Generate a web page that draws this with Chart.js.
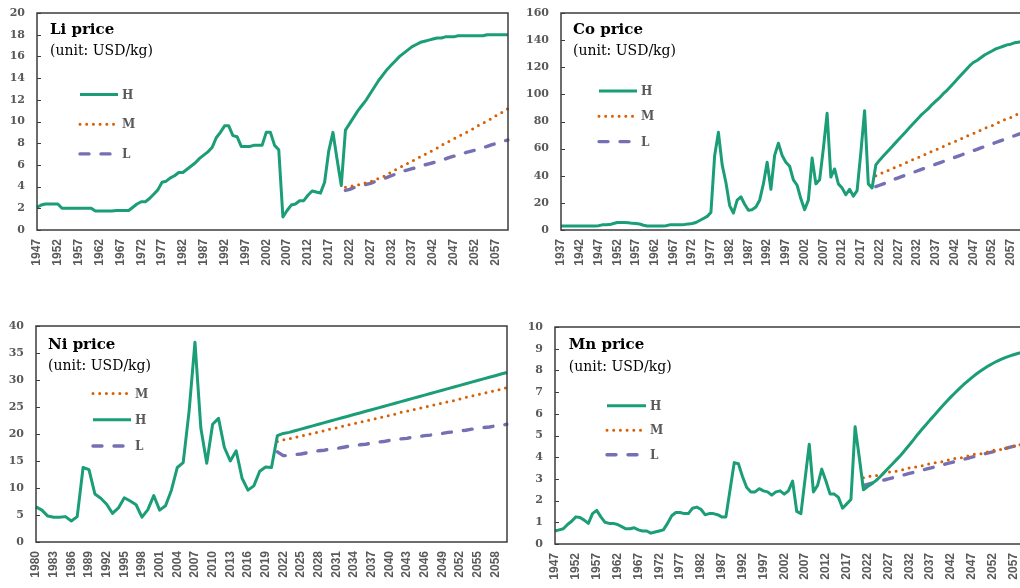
<!DOCTYPE html>
<html><head><meta charset="utf-8">
<script src="https://cdn.jsdelivr.net/npm/chart.js@4.4.1/dist/chart.umd.min.js"></script>
<style>
html,body{margin:0;padding:0;background:#fff;overflow:hidden;width:1020px;height:588px;}
#wrap{position:relative;width:1020px;height:588px;overflow:hidden;background:#fff;}
canvas{position:absolute;}
</style></head><body><div id="wrap">
<canvas id="cLi" width="512" height="290" style="left:0;top:0"></canvas>
<canvas id="cCo" width="514" height="290" style="left:510px;top:0"></canvas>
<canvas id="cNi" width="512" height="288" style="left:0;top:300px"></canvas>
<canvas id="cMn" width="520" height="288" style="left:510px;top:300px"></canvas>
</div>
<script>
// ---------- DATA ----------
const projStart = 2021;

const liStart = 1947, liEnd = 2060;
const liH = [
  2.1, 2.3, 2.4, 2.4, 2.4, 2.4, 2.0, 2.0, 2.0, 2.0,
  2.0, 2.0, 2.0, 2.0, 1.75, 1.75, 1.75, 1.75, 1.75, 1.8,
  1.8, 1.8, 1.8, 2.1, 2.4, 2.6, 2.6, 2.9, 3.3, 3.7,
  4.4, 4.5, 4.8, 5.0, 5.3, 5.3, 5.6, 5.9, 6.2, 6.6,
  6.9, 7.2, 7.6, 8.5, 9.0, 9.6, 9.6, 8.7, 8.6, 7.7,
  7.7, 7.7, 7.8, 7.8, 7.8, 9.0, 9.0, 7.8, 7.4, 1.2,
  1.8, 2.3, 2.4, 2.7, 2.7, 3.2, 3.6, 3.5, 3.4, 4.4,
  7.3, 9.0, 6.5, 4.1, 9.2, 9.8, 10.4, 11.0, 11.5, 12.0,
  12.6, 13.2, 13.8, 14.3, 14.8, 15.2, 15.6, 16.0, 16.3, 16.6,
  16.9, 17.1, 17.3, 17.4, 17.5, 17.6, 17.7, 17.7, 17.8, 17.8,
  17.8, 17.9, 17.9, 17.9, 17.9, 17.9, 17.9, 17.9, 18.0, 18.0,
  18.0, 18.0, 18.0, 18.0
];
const liM = [
  3.95, 4.0, 4.1, 4.15, 4.25, 4.35, 4.45, 4.6, 4.75, 4.9,
  5.1, 5.35, 5.55, 5.75, 5.95, 6.15, 6.35, 6.55, 6.75, 6.95,
  7.15, 7.35, 7.55, 7.8, 8.0, 8.2, 8.4, 8.6, 8.8, 9.0,
  9.2, 9.4, 9.65, 9.85, 10.05, 10.25, 10.5, 10.7, 10.95, 11.2
];
const liL = [
  3.65, 3.75, 3.9, 4.0, 4.1, 4.2, 4.3, 4.45, 4.6, 4.7,
  4.85, 5.0, 5.15, 5.3, 5.45, 5.55, 5.65, 5.75, 5.85, 6.0,
  6.1, 6.2, 6.3, 6.45, 6.55, 6.7, 6.8, 6.9, 7.0, 7.15,
  7.25, 7.35, 7.5, 7.6, 7.7, 7.85, 7.95, 8.05, 8.2, 8.3
];

const coStart = 1937, coEnd = 2060;
const coH = [
  3, 3, 3, 3, 3, 3, 3, 3, 3, 3,
  3.2, 3.8, 3.9, 4.0, 4.8, 5.5, 5.6, 5.6, 5.4, 4.9,
  4.8, 4.4, 3.5, 3.0, 2.9, 2.9, 2.9, 2.9, 3.2, 3.8,
  3.9, 3.9, 3.9, 4.0, 4.5, 4.8, 5.5, 7.0, 8.5, 10.0,
  13, 55, 72, 48, 35, 18, 12.5, 22, 24.5, 19,
  14.5, 15, 17, 22, 34, 50, 30, 55, 64, 55,
  50, 47, 37, 33, 23, 15, 22, 53, 34, 37,
  60, 86, 39, 45, 34, 31, 26, 30, 25, 29,
  57, 88, 34, 31, 48, 51.5, 54.5, 57.5, 60.5, 63.5,
  66.5, 69.5, 72.5, 75.5, 78.5, 81.5, 84.5, 87, 89.5, 92.5,
  95, 97.5, 100.5, 103, 106, 109, 112, 115, 118, 121,
  123.5, 125, 127, 129, 130.5, 132, 133.5, 134.5, 135.5, 136.5,
  137, 138, 138.5, 139
];
const coM = [
  40, 41, 42.5, 43.5, 45, 46, 47, 48.5, 49.5, 51,
  52, 53, 54.5, 55.5, 57, 58, 59, 60.5, 61.5, 63,
  64, 65, 66.5, 67.5, 69, 70, 71, 72.5, 73.5, 75,
  76, 77, 78.5, 79.5, 81, 82, 83, 84.5, 85.5, 87
];
const coL = [
  32, 33, 34, 35, 36.5, 37.5, 38.5, 39.5, 40.5, 41.5,
  42.5, 43.5, 44.5, 45.5, 46.5, 47.5, 48.5, 49.5, 50.5, 51.5,
  52.5, 53.5, 54.5, 55.5, 56.5, 57.5, 58.5, 59.5, 60.5, 61.5,
  62.5, 63.5, 64.5, 65.5, 66.5, 67.5, 68.5, 69.5, 70.5, 71.5
];

const niStart = 1980, niEnd = 2060;
const niH = [
  6.5, 5.9, 4.8, 4.6, 4.6, 4.7, 3.9, 4.7, 13.8, 13.4,
  8.9, 8.1, 7.0, 5.3, 6.3, 8.2, 7.6, 6.9, 4.6, 6.0,
  8.6, 5.9, 6.7, 9.6, 13.8, 14.7, 24.2, 37.0, 21.1, 14.6,
  21.8, 22.9, 17.5, 15.0, 16.9, 11.8, 9.6, 10.4, 13.1, 13.9,
  13.8, 19.7, 20.1, 20.3, 20.6, 20.9, 21.2, 21.5, 21.8, 22.1,
  22.4, 22.7, 23.0, 23.3, 23.6, 23.9, 24.2, 24.5, 24.8, 25.1,
  25.4, 25.7, 26.0, 26.3, 26.6, 26.9, 27.2, 27.5, 27.8, 28.1,
  28.4, 28.7, 29.0, 29.3, 29.6, 29.9, 30.2, 30.5, 30.8, 31.1,
  31.4
];
const niM = [
  18.6, 18.9, 19.1, 19.4, 19.6, 19.9, 20.1, 20.4, 20.6, 20.9,
  21.1, 21.4, 21.7, 21.9, 22.2, 22.4, 22.7, 22.9, 23.2, 23.4,
  23.7, 24.0, 24.2, 24.5, 24.7, 25.0, 25.2, 25.5, 25.7, 26.0,
  26.2, 26.5, 26.8, 27.0, 27.3, 27.5, 27.8, 28.0, 28.3, 28.6
];
const niL = [
  16.7, 16.0, 16.0, 16.2, 16.3, 16.5, 16.7, 16.9, 17.0, 17.2,
  17.3, 17.5, 17.7, 17.8, 18.0, 18.1, 18.3, 18.5, 18.6, 18.8,
  18.9, 19.1, 19.2, 19.4, 19.5, 19.7, 19.8, 20.0, 20.1, 20.3,
  20.4, 20.6, 20.7, 20.9, 21.0, 21.2, 21.3, 21.5, 21.6, 21.8
];

const mnStart = 1947, mnEnd = 2060;
const mnH = [
  0.6, 0.65, 0.7, 0.9, 1.05, 1.25, 1.22, 1.1, 0.95, 1.4,
  1.55, 1.25, 1.0, 0.95, 0.95, 0.9, 0.8, 0.7, 0.7, 0.75,
  0.65, 0.6, 0.6, 0.5, 0.55, 0.6, 0.65, 0.95, 1.3, 1.45,
  1.45, 1.4, 1.4, 1.65, 1.7, 1.6, 1.35, 1.4, 1.4, 1.35,
  1.25, 1.25, 2.5, 3.75, 3.7, 3.1, 2.6, 2.4, 2.4, 2.55,
  2.45, 2.4, 2.25, 2.4, 2.45, 2.3, 2.45, 2.9, 1.5, 1.4,
  3.0, 4.6, 2.4, 2.7, 3.45, 2.9, 2.3, 2.3, 2.15, 1.65,
  1.85, 2.05, 5.4, 4.0, 2.5, 2.65, 2.78, 2.92, 3.1, 3.3,
  3.5, 3.7, 3.9, 4.1, 4.33, 4.56, 4.8, 5.05, 5.28, 5.5,
  5.72, 5.93, 6.15, 6.37, 6.58, 6.78, 6.97, 7.16, 7.34, 7.51,
  7.67, 7.82, 7.96, 8.09, 8.21, 8.32, 8.42, 8.51, 8.59, 8.66,
  8.72, 8.78, 8.83, 8.88
];
const mnM = [
  3.05, 3.1, 3.15, 3.15, 3.2, 3.25, 3.3, 3.35, 3.35, 3.4,
  3.45, 3.5, 3.55, 3.55, 3.6, 3.65, 3.7, 3.75, 3.75, 3.8,
  3.85, 3.9, 3.95, 3.95, 4.0, 4.05, 4.1, 4.15, 4.15, 4.2,
  4.25, 4.3, 4.35, 4.35, 4.4, 4.45, 4.5, 4.55, 4.6, 4.65
];
const mnL = [
  2.7, 2.75, 2.8, 2.85, 2.9, 2.95, 3.0, 3.05, 3.1, 3.15,
  3.2, 3.25, 3.3, 3.35, 3.4, 3.45, 3.5, 3.55, 3.6, 3.65,
  3.7, 3.75, 3.8, 3.85, 3.9, 3.95, 4.0, 4.05, 4.1, 4.15,
  4.2, 4.25, 4.3, 4.35, 4.4, 4.45, 4.5, 4.55, 4.6, 4.7
];

// axis settings (tick labels)
const liYMax = 20, liYStep = 2, liXStep = 5;
const coYMax = 160, coYStep = 20, coXStep = 5;
const niYMax = 40, niYStep = 5, niXStep = 3;
const mnYMax = 10, mnYStep = 1, mnXStep = 5;

const liTitle = 'Li price', coTitle = 'Co price', niTitle = 'Ni price', mnTitle = 'Mn price';
const unitText = '(unit: USD/kg)';
const liLegend = ['H', 'M', 'L'];
const coLegend = ['H', 'M', 'L'];
const niLegend = ['M', 'H', 'L'];
const mnLegend = ['H', 'M', 'L'];

// ---------- BUILD ----------
function yearLabels(a, b) { const r = []; for (let y = a; y <= b; y++) r.push(String(y)); return r; }
function padProj(labels, arr) {
  const off = labels.indexOf(String(projStart));
  return labels.map((_, i) => i < off ? null : arr[i - off]);
}

const STY = {
  H: { borderColor: '#1B9E77', borderWidth: 3, borderDash: [], borderCapStyle: 'butt' },
  M: { borderColor: '#D95F02', borderWidth: 3, borderDash: [0, 6.7], borderCapStyle: 'round' },
  L: { borderColor: '#7570B3', borderWidth: 3.4, borderDash: [9, 12], borderCapStyle: 'round' }
};

const deco = {
  id: 'deco',
  afterDatasetsDraw(chart, args, o) {
    const { ctx, chartArea: a, scales } = chart;
    ctx.save();
    ctx.strokeStyle = '#3c3c3c';
    ctx.lineWidth = 1.5;
    ctx.setLineDash([]);
    ctx.strokeRect(a.left, a.top, a.right - a.left, a.bottom - a.top);
    const ys = scales.y;
    ctx.lineWidth = 1;
    ys.ticks.forEach(t => {
      const py = Math.round(ys.getPixelForValue(t.value)) + 0.5;
      ctx.beginPath(); ctx.moveTo(a.left, py); ctx.lineTo(a.left + 4, py); ctx.stroke();
    });
    ctx.fillStyle = '#000';
    ctx.textAlign = 'left';
    ctx.textBaseline = 'alphabetic';
    ctx.font = 'bold 15px "DejaVu Serif"';
    ctx.fillText(o.title, a.left + o.tx, a.top + o.ty1);
    ctx.font = '14px "DejaVu Serif"';
    ctx.fillText(o.unit, a.left + o.tx, a.top + o.ty2);
    o.order.forEach((key, i) => {
      const ds = chart.data.datasets.find(d => d.label === key);
      const y = a.top + o.ly + i * o.lgap;
      ctx.beginPath();
      ctx.setLineDash(ds.borderDash || []);
      ctx.lineCap = ds.borderCapStyle || 'butt';
      ctx.strokeStyle = ds.borderColor;
      ctx.lineWidth = ds.borderWidth;
      ctx.moveTo(a.left + o.lx, y);
      ctx.lineTo(a.left + o.lx + o.llen, y);
      ctx.stroke();
      ctx.setLineDash([]);
      ctx.fillStyle = '#595959';
      ctx.font = 'bold 12px "DejaVu Serif"';
      ctx.textBaseline = 'middle';
      ctx.fillText(key, a.left + o.lx + o.llen + 4, y + 1);
    });
    ctx.restore();
  }
};

function makeChart(id, start, end, H, M, L, yMax, yStep, xStep, cfg) {
  const labels = yearLabels(start, end);
  const mk = (key, data) => Object.assign({ label: key, data: data, pointRadius: 0, fill: false, tension: 0, borderJoinStyle: 'round', spanGaps: false }, STY[key]);
  return new Chart(document.getElementById(id), {
    type: 'line',
    data: {
      labels: labels,
      datasets: [mk('H', H), mk('M', padProj(labels, M)), mk('L', padProj(labels, L))]
    },
    plugins: [deco],
    options: {
      responsive: false, animation: false, devicePixelRatio: 1,
      layout: { padding: { top: cfg.pt, right: cfg.pr, left: 0, bottom: 0 } },
      plugins: {
        legend: { display: false }, tooltip: { enabled: false }, title: { display: false },
        deco: { title: cfg.title, unit: unitText, order: cfg.order, tx: cfg.tx, ty1: cfg.ty1, ty2: cfg.ty2, lx: cfg.lx, llen: cfg.llen, ly: cfg.ly, lgap: cfg.lgap }
      },
      scales: {
        x: {
          type: 'category', offset: false,
          grid: { display: false, drawTicks: false }, border: { display: false },
          ticks: {
            autoSkip: false, maxRotation: 90, minRotation: 90, padding: 9,
            color: '#595959', font: { family: 'Liberation Sans', weight: 'bold', size: 12 },
            callback: function (v, i) { return i % xStep === 0 ? this.getLabelForValue(v) : ''; }
          },
          afterFit: s => { s.height = cfg.xh; s.paddingLeft = 0; s.paddingRight = 0; }
        },
        y: {
          min: 0, max: yMax,
          grid: { display: false, drawTicks: false }, border: { display: false },
          ticks: { stepSize: yStep, padding: 12, color: '#595959', font: { family: 'DejaVu Serif', weight: 'bold', size: 11 } },
          afterFit: s => { s.width = cfg.yw; s.paddingTop = 0; s.paddingBottom = 0; }
        }
      }
    }
  });
}

makeChart('cLi', liStart, liEnd, liH, liM, liL, liYMax, liYStep, liXStep,
  { pt: 13, pr: 4, xh: 60, yw: 37, title: liTitle, order: liLegend, tx: 13, ty1: 21, ty2: 42, lx: 43, llen: 38, ly: 81.5, lgap: 29.7 });
makeChart('cCo', coStart, coEnd, coH, coM, coL, coYMax, coYStep, coXStep,
  { pt: 13, pr: 2, xh: 60, yw: 51, title: coTitle, order: coLegend, tx: 12, ty1: 21, ty2: 42, lx: 38, llen: 38, ly: 78, lgap: 25.3 });
makeChart('cNi', niStart, niEnd, niH, niM, niL, niYMax, niYStep, niXStep,
  { pt: 26, pr: 5, xh: 46, yw: 36, title: niTitle, order: niLegend, tx: 12, ty1: 22.6, ty2: 43.6, lx: 57, llen: 38, ly: 67.6, lgap: 26.2 });
makeChart('cMn', mnStart, mnEnd, mnH, mnM, mnL, mnYMax, mnYStep, mnXStep,
  { pt: 27, pr: 4, xh: 44, yw: 45, title: mnTitle, order: mnLegend, tx: 13.7, ty1: 22, ty2: 43.7, lx: 52, llen: 39, ly: 78.7, lgap: 24.5 });
</script>
</body></html>
